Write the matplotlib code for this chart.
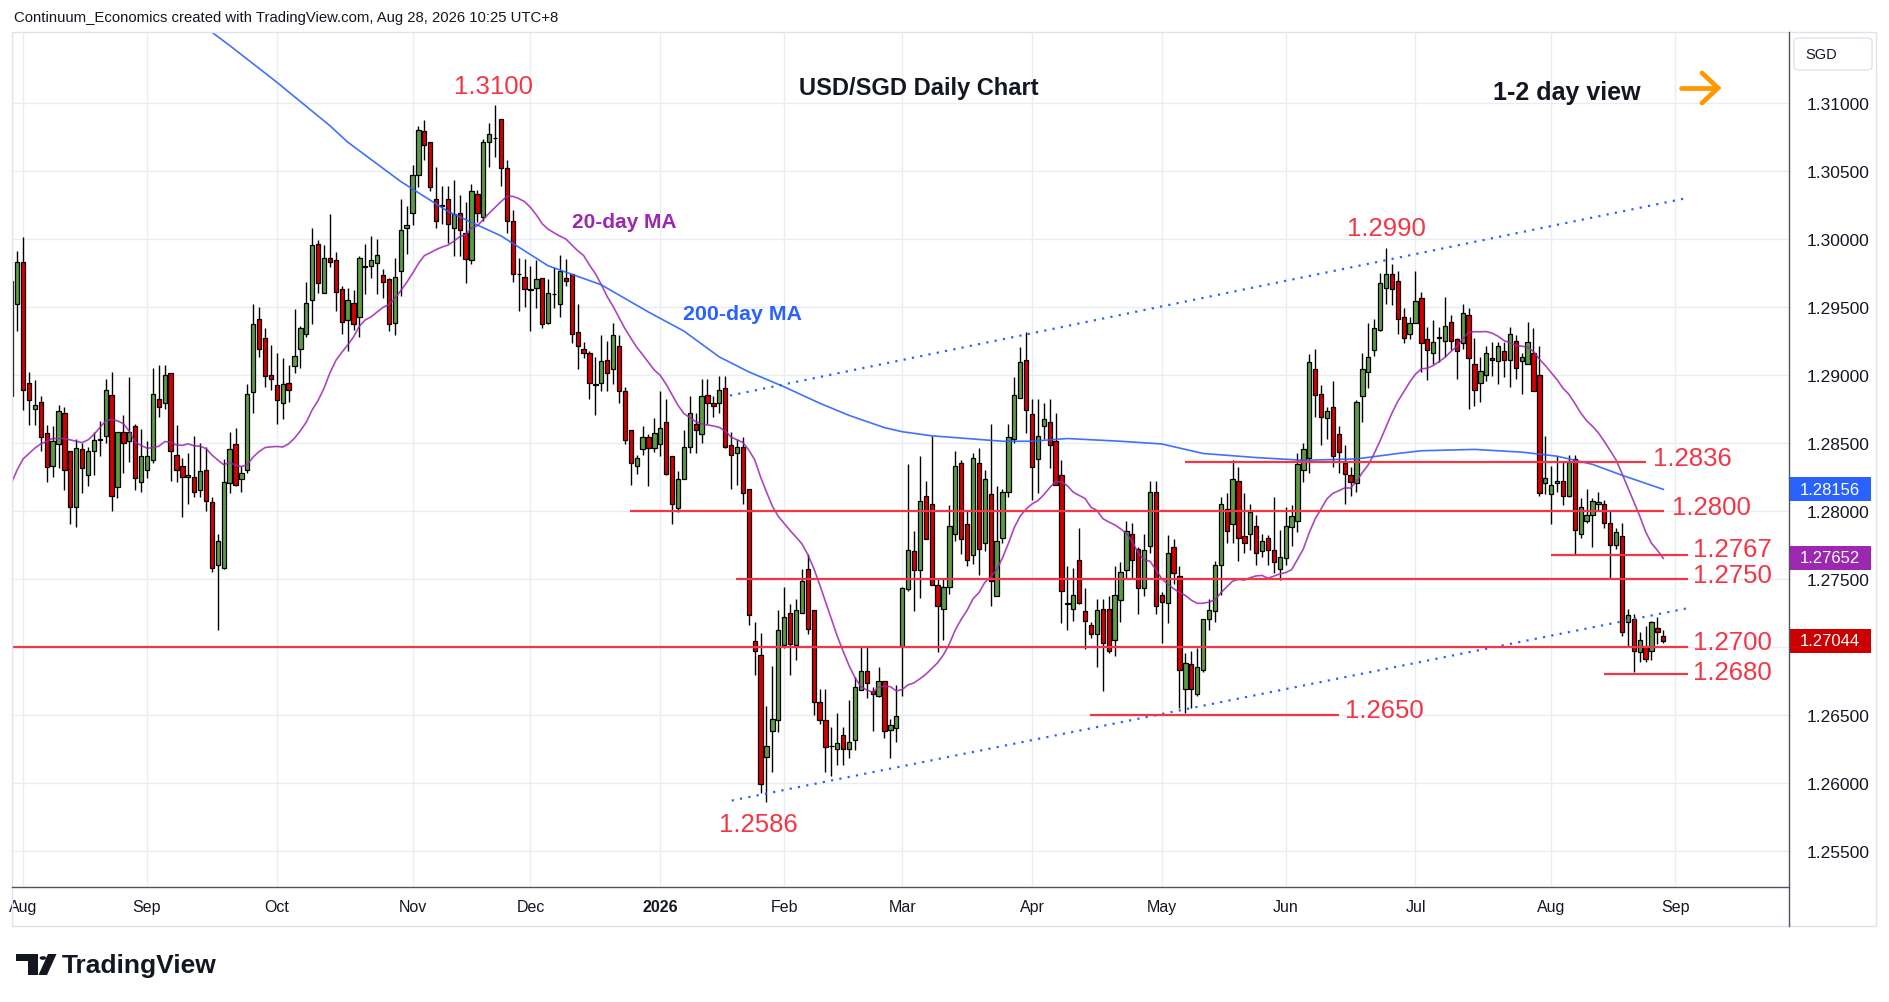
import matplotlib
matplotlib.use("Agg")
import matplotlib.pyplot as plt
from matplotlib.patches import Rectangle, FancyBboxPatch, Polygon, Circle
from matplotlib.lines import Line2D
from matplotlib.transforms import blended_transform_factory
import numpy as np
import pandas as pd

plt.rcParams['font.family'] = ['Liberation Sans', 'DejaVu Sans']

W, H = 1889, 1003

# daily candles, USD/SGD, 30 Jul 2025 .. 28 Aug 2026 (bar index 0..280)
opens = [
    1.2884, 1.2952, 1.2983, 1.2894, 1.2875, 1.2880, 1.2857, 1.2833, 1.2849, 1.2872,
    1.2844, 1.2803, 1.2845, 1.2826, 1.2844, 1.2852, 1.2855, 1.2885, 1.2817, 1.2858,
    1.2851, 1.2862, 1.2821, 1.2830, 1.2837, 1.2882, 1.2879, 1.2901, 1.2841, 1.2833,
    1.2825, 1.2825, 1.2815, 1.2830, 1.2806, 1.2760, 1.2758, 1.2820, 1.2849, 1.2823,
    1.2830, 1.2887, 1.2941, 1.2927, 1.2900, 1.2892, 1.2879, 1.2894, 1.2906, 1.2919,
    1.2930, 1.2955, 1.2996, 1.2960, 1.2986, 1.2984, 1.2963, 1.2940, 1.2953, 1.2942,
    1.2980, 1.2980, 1.2982, 1.2973, 1.2970, 1.2938, 1.2976, 1.3008, 1.3019, 1.3047,
    1.3079, 1.3071, 1.3029, 1.3025, 1.3029, 1.3008, 1.3019, 1.3004, 1.2984, 1.3033,
    1.3016, 1.3071, 1.3074, 1.3088, 1.3052, 1.3013, 1.2974, 1.2972, 1.2963, 1.2964,
    1.2971, 1.2938, 1.2959, 1.2952, 1.2971, 1.2974, 1.2931, 1.2919, 1.2916, 1.2893,
    1.2894, 1.2911, 1.2904, 1.2921, 1.2888, 1.2859, 1.2833, 1.2845, 1.2854, 1.2846,
    1.2849, 1.2865, 1.2840, 1.2802, 1.2823, 1.2847, 1.2864, 1.2856, 1.2885, 1.2879,
    1.2879, 1.2890, 1.2848, 1.2842, 1.2847, 1.2816, 1.2704, 1.2694, 1.2619, 1.2638,
    1.2646, 1.2701, 1.2725, 1.2701, 1.2725, 1.2757, 1.2727, 1.2659, 1.2646, 1.2627,
    1.2625, 1.2635, 1.2625, 1.2631, 1.2668, 1.2682, 1.2667, 1.2664, 1.2675, 1.2639,
    1.2640, 1.2700, 1.2742, 1.2770, 1.2756, 1.2811, 1.2805, 1.2745, 1.2728, 1.2744,
    1.2783, 1.2835, 1.2790, 1.2767, 1.2835, 1.2776, 1.2812, 1.2737, 1.2780, 1.2814,
    1.2853, 1.2883, 1.2911, 1.2871, 1.2838, 1.2862, 1.2865, 1.2851, 1.2826, 1.2732,
    1.2728, 1.2764, 1.2726, 1.2716, 1.2709, 1.2728, 1.2728, 1.2705, 1.2734, 1.2756,
    1.2783, 1.2772, 1.2743, 1.2774, 1.2814, 1.2738, 1.2732, 1.2773, 1.2752, 1.2669,
    1.2687, 1.2665, 1.2683, 1.2720, 1.2726, 1.2760, 1.2801, 1.2790, 1.2822, 1.2781,
    1.2783, 1.2789, 1.2770, 1.2780, 1.2771, 1.2757, 1.2765, 1.2788, 1.2792, 1.2830,
    1.2839, 1.2904, 1.2886, 1.2868, 1.2876, 1.2856, 1.2835, 1.2826, 1.2820, 1.2884,
    1.2902, 1.2918, 1.2933, 1.2964, 1.2974, 1.2969, 1.2942, 1.2930, 1.2938, 1.2956,
    1.2926, 1.2916, 1.2928, 1.2925, 1.2939, 1.2926, 1.2923, 1.2944, 1.2908, 1.2894,
    1.2900, 1.2912, 1.2910, 1.2917, 1.2911, 1.2925, 1.2910, 1.2908, 1.2916, 1.2900,
    1.2820, 1.2812, 1.2820, 1.2822, 1.2811, 1.2838, 1.2783, 1.2792, 1.2797, 1.2805,
    1.2805, 1.2791, 1.2775, 1.2781, 1.2718, 1.2720, 1.2696, 1.2700, 1.2697, 1.2714,
    1.2708,
]
highs = [
    1.2975, 1.2991, 1.3001, 1.2902, 1.2896, 1.2884, 1.2863, 1.2862, 1.2878, 1.2876,
    1.2844, 1.2853, 1.2850, 1.2847, 1.2858, 1.2866, 1.2897, 1.2902, 1.2858, 1.2870,
    1.2898, 1.2864, 1.2860, 1.2851, 1.2905, 1.2907, 1.2907, 1.2901, 1.2863, 1.2839,
    1.2842, 1.2855, 1.2850, 1.2847, 1.2810, 1.2783, 1.2838, 1.2858, 1.2861, 1.2833,
    1.2893, 1.2952, 1.2950, 1.2934, 1.2922, 1.2916, 1.2912, 1.2907, 1.2948, 1.2936,
    1.2968, 1.3008, 1.2999, 1.2995, 1.3018, 1.2990, 1.2965, 1.2964, 1.2962, 1.2987,
    1.2996, 1.3002, 1.3000, 1.2978, 1.2971, 1.2986, 1.3029, 1.3024, 1.3054, 1.3083,
    1.3087, 1.3071, 1.3053, 1.3039, 1.3039, 1.3043, 1.3032, 1.3027, 1.3040, 1.3036,
    1.3073, 1.3085, 1.3098, 1.3088, 1.3058, 1.3021, 1.2986, 1.2985, 1.2980, 1.2984,
    1.2971, 1.2970, 1.2979, 1.2988, 1.2985, 1.2974, 1.2952, 1.2924, 1.2917, 1.2913,
    1.2929, 1.2925, 1.2938, 1.2929, 1.2891, 1.2859, 1.2841, 1.2862, 1.2856, 1.2868,
    1.2888, 1.2882, 1.2840, 1.2829, 1.2859, 1.2884, 1.2872, 1.2897, 1.2897, 1.2884,
    1.2899, 1.2899, 1.2858, 1.2853, 1.2854, 1.2816, 1.2718, 1.2710, 1.2656, 1.2686,
    1.2727, 1.2744, 1.2731, 1.2735, 1.2757, 1.2768, 1.2727, 1.2669, 1.2669, 1.2641,
    1.2651, 1.2641, 1.2661, 1.2678, 1.2700, 1.2700, 1.2670, 1.2685, 1.2675, 1.2647,
    1.2672, 1.2744, 1.2834, 1.2785, 1.2840, 1.2822, 1.2855, 1.2750, 1.2750, 1.2804,
    1.2844, 1.2837, 1.2800, 1.2842, 1.2846, 1.2830, 1.2864, 1.2818, 1.2816, 1.2864,
    1.2898, 1.2920, 1.2931, 1.2882, 1.2882, 1.2879, 1.2882, 1.2872, 1.2837, 1.2759,
    1.2758, 1.2787, 1.2743, 1.2718, 1.2735, 1.2735, 1.2737, 1.2759, 1.2762, 1.2792,
    1.2791, 1.2773, 1.2783, 1.2822, 1.2822, 1.2740, 1.2782, 1.2779, 1.2759, 1.2695,
    1.2697, 1.2699, 1.2720, 1.2735, 1.2763, 1.2810, 1.2813, 1.2837, 1.2832, 1.2813,
    1.2805, 1.2797, 1.2783, 1.2782, 1.2810, 1.2786, 1.2803, 1.2804, 1.2842, 1.2850,
    1.2915, 1.2919, 1.2892, 1.2876, 1.2895, 1.2862, 1.2848, 1.2832, 1.2881, 1.2916,
    1.2938, 1.2941, 1.2975, 1.2993, 1.2981, 1.2976, 1.2949, 1.2942, 1.2976, 1.2961,
    1.2935, 1.2940, 1.2935, 1.2957, 1.2944, 1.2927, 1.2952, 1.2949, 1.2927, 1.2913,
    1.2921, 1.2924, 1.2924, 1.2924, 1.2935, 1.2929, 1.2916, 1.2939, 1.2934, 1.2921,
    1.2855, 1.2833, 1.2840, 1.2836, 1.2841, 1.2841, 1.2809, 1.2816, 1.2809, 1.2814,
    1.2808, 1.2800, 1.2787, 1.2791, 1.2728, 1.2724, 1.2711, 1.2715, 1.2719, 1.2722,
    1.2712,
]
lows = [
    1.2878, 1.2932, 1.2874, 1.2863, 1.2863, 1.2844, 1.2821, 1.2825, 1.2831, 1.2815,
    1.2790, 1.2788, 1.2813, 1.2818, 1.2826, 1.2840, 1.2850, 1.2800, 1.2809, 1.2828,
    1.2836, 1.2815, 1.2814, 1.2824, 1.2835, 1.2869, 1.2875, 1.2822, 1.2821, 1.2795,
    1.2805, 1.2810, 1.2810, 1.2800, 1.2755, 1.2712, 1.2757, 1.2813, 1.2818, 1.2814,
    1.2828, 1.2872, 1.2913, 1.2891, 1.2889, 1.2864, 1.2867, 1.2880, 1.2901, 1.2905,
    1.2928, 1.2937, 1.2960, 1.2960, 1.2979, 1.2947, 1.2930, 1.2917, 1.2933, 1.2928,
    1.2959, 1.2971, 1.2959, 1.2956, 1.2932, 1.2929, 1.2958, 1.2989, 1.3010, 1.3038,
    1.3058, 1.3035, 1.3008, 1.3011, 1.2997, 1.2987, 1.2987, 1.2967, 1.2981, 1.3012,
    1.3013, 1.3053, 1.3060, 1.3039, 1.3004, 1.2968, 1.2947, 1.2950, 1.2932, 1.2949,
    1.2934, 1.2937, 1.2949, 1.2942, 1.2965, 1.2923, 1.2904, 1.2912, 1.2882, 1.2870,
    1.2888, 1.2888, 1.2893, 1.2879, 1.2849, 1.2819, 1.2827, 1.2841, 1.2818, 1.2843,
    1.2840, 1.2826, 1.2790, 1.2799, 1.2823, 1.2842, 1.2842, 1.2850, 1.2864, 1.2869,
    1.2872, 1.2846, 1.2816, 1.2819, 1.2805, 1.2716, 1.2679, 1.2592, 1.2586, 1.2608,
    1.2637, 1.2699, 1.2679, 1.2690, 1.2725, 1.2709, 1.2650, 1.2643, 1.2608, 1.2605,
    1.2613, 1.2613, 1.2618, 1.2624, 1.2668, 1.2662, 1.2638, 1.2663, 1.2633, 1.2618,
    1.2630, 1.2664, 1.2741, 1.2726, 1.2736, 1.2779, 1.2745, 1.2696, 1.2705, 1.2739,
    1.2778, 1.2768, 1.2759, 1.2761, 1.2753, 1.2770, 1.2730, 1.2737, 1.2776, 1.2810,
    1.2850, 1.2883, 1.2857, 1.2808, 1.2813, 1.2853, 1.2831, 1.2819, 1.2717, 1.2712,
    1.2719, 1.2731, 1.2698, 1.2706, 1.2685, 1.2667, 1.2695, 1.2693, 1.2718, 1.2750,
    1.2750, 1.2724, 1.2737, 1.2769, 1.2724, 1.2703, 1.2717, 1.2746, 1.2655, 1.2651,
    1.2655, 1.2664, 1.2681, 1.2712, 1.2718, 1.2738, 1.2776, 1.2776, 1.2763, 1.2769,
    1.2771, 1.2760, 1.2766, 1.2760, 1.2754, 1.2749, 1.2760, 1.2774, 1.2784, 1.2821,
    1.2828, 1.2869, 1.2848, 1.2853, 1.2832, 1.2828, 1.2805, 1.2811, 1.2814, 1.2865,
    1.2890, 1.2914, 1.2932, 1.2952, 1.2951, 1.2930, 1.2923, 1.2926, 1.2938, 1.2902,
    1.2896, 1.2908, 1.2909, 1.2913, 1.2918, 1.2897, 1.2919, 1.2875, 1.2877, 1.2880,
    1.2895, 1.2899, 1.2893, 1.2898, 1.2891, 1.2897, 1.2886, 1.2908, 1.2888, 1.2811,
    1.2812, 1.2790, 1.2814, 1.2804, 1.2810, 1.2767, 1.2780, 1.2791, 1.2773, 1.2800,
    1.2787, 1.2750, 1.2772, 1.2708, 1.2700, 1.2681, 1.2689, 1.2689, 1.2690, 1.2702,
    1.2703,
]
closes = [
    1.2969, 1.2983, 1.2889, 1.2881, 1.2878, 1.2854, 1.2832, 1.2851, 1.2873, 1.2830,
    1.2803, 1.2846, 1.2831, 1.2844, 1.2852, 1.2853, 1.2889, 1.2811, 1.2858, 1.2850,
    1.2858, 1.2824, 1.2840, 1.2840, 1.2886, 1.2876, 1.2900, 1.2844, 1.2830, 1.2825,
    1.2826, 1.2814, 1.2829, 1.2807, 1.2758, 1.2778, 1.2821, 1.2845, 1.2819, 1.2828,
    1.2886, 1.2937, 1.2919, 1.2899, 1.2897, 1.2881, 1.2893, 1.2889, 1.2914, 1.2934,
    1.2953, 1.2995, 1.2967, 1.2986, 1.2983, 1.2961, 1.2939, 1.2955, 1.2937, 1.2986,
    1.2979, 1.2984, 1.2988, 1.2968, 1.2937, 1.2972, 1.3006, 1.3010, 1.3047, 1.3080,
    1.3069, 1.3038, 1.3013, 1.3024, 1.3011, 1.3018, 1.3006, 1.2985, 1.3035, 1.3019,
    1.3071, 1.3077, 1.3074, 1.3052, 1.3013, 1.2974, 1.2974, 1.2963, 1.2962, 1.2970,
    1.2937, 1.2960, 1.2959, 1.2976, 1.2969, 1.2930, 1.2921, 1.2916, 1.2894, 1.2892,
    1.2910, 1.2901, 1.2929, 1.2888, 1.2852, 1.2835, 1.2839, 1.2854, 1.2846, 1.2857,
    1.2861, 1.2827, 1.2805, 1.2823, 1.2847, 1.2872, 1.2859, 1.2884, 1.2879, 1.2877,
    1.2889, 1.2847, 1.2841, 1.2847, 1.2813, 1.2723, 1.2697, 1.2599, 1.2627, 1.2647,
    1.2712, 1.2722, 1.2702, 1.2727, 1.2748, 1.2713, 1.2659, 1.2646, 1.2626, 1.2627,
    1.2629, 1.2625, 1.2630, 1.2670, 1.2682, 1.2673, 1.2665, 1.2675, 1.2638, 1.2642,
    1.2649, 1.2743, 1.2771, 1.2756, 1.2807, 1.2779, 1.2745, 1.2730, 1.2744, 1.2789,
    1.2833, 1.2779, 1.2764, 1.2839, 1.2772, 1.2823, 1.2748, 1.2778, 1.2814, 1.2854,
    1.2885, 1.2909, 1.2874, 1.2832, 1.2855, 1.2867, 1.2848, 1.2819, 1.2741, 1.2731,
    1.2738, 1.2732, 1.2719, 1.2709, 1.2727, 1.2703, 1.2697, 1.2738, 1.2755, 1.2785,
    1.2764, 1.2743, 1.2771, 1.2814, 1.2730, 1.2733, 1.2769, 1.2754, 1.2683, 1.2688,
    1.2669, 1.2685, 1.2720, 1.2727, 1.2760, 1.2805, 1.2785, 1.2823, 1.2780, 1.2776,
    1.2799, 1.2769, 1.2778, 1.2771, 1.2762, 1.2766, 1.2789, 1.2796, 1.2834, 1.2845,
    1.2909, 1.2885, 1.2869, 1.2873, 1.2840, 1.2843, 1.2827, 1.2821, 1.2880, 1.2904,
    1.2913, 1.2934, 1.2967, 1.2974, 1.2963, 1.2941, 1.2927, 1.2938, 1.2954, 1.2923,
    1.2918, 1.2924, 1.2927, 1.2936, 1.2925, 1.2917, 1.2945, 1.2912, 1.2889, 1.2903,
    1.2916, 1.2911, 1.2921, 1.2911, 1.2930, 1.2905, 1.2913, 1.2924, 1.2888, 1.2813,
    1.2824, 1.2819, 1.2822, 1.2811, 1.2836, 1.2786, 1.2803, 1.2797, 1.2807, 1.2806,
    1.2791, 1.2775, 1.2784, 1.2711, 1.2723, 1.2697, 1.2705, 1.2691, 1.2718, 1.2711,
    1.2704,
]

# 20-day MA for the first bars (its window starts before the visible range)
ma20_head = [1.2820, 1.2830, 1.2838, 1.2842, 1.2846, 1.2849, 1.2851, 1.2853, 1.2853, 1.2853,
             1.2852, 1.2851, 1.2850, 1.2852, 1.2856, 1.2861, 1.2866, 1.2867, 1.2866]

# 200-day MA (bar index, value)
ma200_idx = [33, 37, 45, 54, 57, 66, 74, 83, 91, 100, 108, 114, 120, 125, 131, 137, 142, 148,
             151, 156, 162, 168, 173, 179, 188, 195, 202, 211, 219, 228, 235, 239, 248, 256,
             262, 268, 273, 280]
ma200_val = [1.3155, 1.3142, 1.3115, 1.3083, 1.3071, 1.3042, 1.3020, 1.3002, 1.2980, 1.2966,
             1.2946, 1.2932, 1.2913, 1.2902, 1.2891, 1.2879, 1.2870, 1.2861, 1.2858, 1.2855,
             1.2853, 1.2851, 1.2851, 1.2853, 1.2851, 1.2849, 1.2842, 1.2839, 1.2837, 1.2838,
             1.2842, 1.2844, 1.2845, 1.2843, 1.2840, 1.2834, 1.2826, 1.28156]

# last values printed on the price scale
last_ma200 = 1.28156
last_ma20 = 1.27652
last_close = 1.27044

month_idx = [2, 23, 45, 68, 88, 110, 131, 151, 173, 195, 216, 238, 261, 282]
month_labels = ['Aug', 'Sep', 'Oct', 'Nov', 'Dec', '2026', 'Feb', 'Mar', 'Apr', 'May',
                'Jun', 'Jul', 'Aug', 'Sep']

levels = [1.2836, 1.2800, 1.2767, 1.2750, 1.2700, 1.2680, 1.2650]
peaks = [1.3100, 1.2990, 1.2586]

# channel trendlines (bar index, price)
upper_chan = [(121.8, 1.28846), (284.1, 1.30299)]
lower_chan = [(122.1, 1.25868), (284.1, 1.27282)]

GREEN = '#5e9c44'
RED = '#d50000'
LVL = '#f23645'
BLUE = '#2962ff'
PURPLE = '#9c27b0'
TXT = '#131722'


def fx(px):
    return px / W


def fy(py):
    return 1 - py / H


fig = plt.figure(figsize=(W / 100, H / 100), dpi=100)
fig.patch.set_facecolor('white')

ax = fig.add_axes([fx(12), fy(888), fx(1789) - fx(12), fy(34) - fy(888)])
xlim = ((12 - 11.3) / 5.9, (1789 - 11.3) / 5.9)
ylim = (1.31 - (888 - 103.6) / 13600, 1.31 + (103.6 - 34) / 13600)
ax.set_xlim(*xlim)
ax.set_ylim(*ylim)

n = len(closes)
x = np.arange(n)
o = np.array(opens)
c = np.array(closes)
hi = np.array(highs)
lo = np.array(lows)

yt = np.arange(1.255, 1.3101, 0.005)
ax.set_yticks(yt)
ax.set_xticks(month_idx)
ax.grid(True, color='#e9edf2', lw=1.0)
ax.set_axisbelow(True)
for s in ax.spines.values():
    s.set_visible(False)

# date labels
ax.set_xticklabels(month_labels)
ax.tick_params(axis='x', length=0, pad=9, labelsize=11.5, labelcolor=TXT)
ax.get_xticklabels()[5].set_fontweight('bold')

# price labels on the right (1.27000 sits under the last-price tag)
ax.yaxis.tick_right()
ax.set_yticklabels(['' if abs(v - last_close) < 0.0015 else f'{v:.5f}' for v in yt])
ax.tick_params(axis='y', length=0, pad=13, labelsize=12.5, labelcolor=TXT)

# candles
ax.vlines(x, lo, hi, color='black', lw=1.0, zorder=3)
body_lo = np.minimum(o, c)
body_h = np.maximum(np.abs(c - o), 0.00002)
cols = [GREEN if cc >= oo else RED for oo, cc in zip(o, c)]
ax.bar(x, body_h, bottom=body_lo, width=0.72, color=cols, edgecolor='black',
       linewidth=0.9, zorder=4)

# moving averages
ma20 = pd.Series(c).rolling(20).mean().to_numpy()
ma20[:19] = ma20_head
ax.plot(x, ma20, color=PURPLE, lw=1.2, alpha=0.85, zorder=5)
ax.plot(ma200_idx, ma200_val, color=BLUE, lw=1.2, alpha=0.9, zorder=5)

# channel
for chan in (upper_chan, lower_chan):
    ax.plot([p[0] for p in chan], [p[1] for p in chan], color=BLUE, lw=1.6,
            linestyle=(0, (1, 2.8)), zorder=5)

# support / resistance lines
spans = {1.2836: (199, 277), 1.2800: (104.9, 280.1), 1.2767: (261, 284.2),
         1.2750: (122.8, 284.2), 1.2700: (xlim[0], 284.2), 1.2680: (270, 284.2),
         1.2650: (182.8, 225)}
lab_pos = {1.2836: (278.3, 1.28387), 1.2800: (281.5, 1.28024), 1.2767: (285.0, 1.27718),
           1.2750: (285.0, 1.27530), 1.2700: (285.0, 1.27035), 1.2680: (285.0, 1.26810),
           1.2650: (226.1, 1.26534)}
for lv in levels:
    x0, x1 = spans[lv]
    ax.hlines(lv, x0, x1, color=LVL, lw=1.6, zorder=6)
    lx, ly = lab_pos[lv]
    ax.text(lx, ly, f'{lv:.4f}', color=LVL, fontsize=18.5, ha='left', va='center', zorder=7)

peak_pos = {1.3100: (81.7, 1.31122), 1.2990: (233.0, 1.30079), 1.2586: (126.7, 1.25693)}
for pk in peaks:
    px, py = peak_pos[pk]
    ax.text(px, py, f'{pk:.4f}', color=LVL, fontsize=18.5, ha='center', va='center', zorder=7)

ax.text(95.0, 1.30125, '20-day MA', color=PURPLE, fontsize=15, fontweight='bold',
        ha='left', va='center', zorder=7)
ax.text(113.8, 1.29446, '200-day MA', color=BLUE, fontsize=15.4, fontweight='bold',
        ha='left', va='center', zorder=7)

# price tags on the axis
tr = blended_transform_factory(ax.transAxes, ax.transData)
axw = 1789 - 12
tags = [(last_ma200, BLUE), (last_ma20, PURPLE), (last_close, '#cc0000')]
for val, col in tags:
    half = 12 / 13600
    ax.add_patch(Rectangle((1.0, val - half), 82 / axw, 2 * half, transform=tr,
                           facecolor=col, edgecolor='none', clip_on=False, zorder=8))
    ax.text(1.0 + 41 / axw, val, f'{val:.5f}', transform=tr, color='white', fontsize=12,
            ha='center', va='center', clip_on=False, zorder=9)

# frame and axis lines
fig.add_artist(Rectangle((fx(12), fy(927)), fx(1876) - fx(12), fy(33) - fy(927),
                         transform=fig.transFigure, facecolor='none', edgecolor='#e0e3eb', lw=1))
fig.add_artist(Line2D([fx(12), fx(1789)], [fy(888), fy(888)], transform=fig.transFigure,
                      color='#50535e', lw=1))
fig.add_artist(Line2D([fx(1789), fx(1789)], [fy(33), fy(927)], transform=fig.transFigure,
                      color='#50535e', lw=1))

# currency box
fig.add_artist(FancyBboxPatch((fx(1794), fy(71)), fx(1872) - fx(1794), fy(39) - fy(71),
                              boxstyle='round,pad=0,rounding_size=0.003',
                              transform=fig.transFigure, facecolor='white',
                              edgecolor='#e0e3eb', lw=1))
fig.text(fx(1805), fy(55), 'SGD', fontsize=10.5, color=TXT, ha='left', va='center')

# header and titles
fig.text(fx(14), fy(18), 'Continuum_Economics created with TradingView.com, Aug 28, 2026 10:25 UTC+8',
         fontsize=10.7, color=TXT, ha='left', va='center')
fig.text(fx(799), fy(88), 'USD/SGD Daily Chart', fontsize=17, fontweight='bold',
         color=TXT, ha='left', va='center')
fig.text(fx(1493), fy(93), '1-2 day view', fontsize=18, fontweight='bold',
         color=TXT, ha='left', va='center')

# orange arrow
ORANGE = '#ff9800'
fig.add_artist(Line2D([fx(1681), fx(1716)], [fy(89), fy(89)], transform=fig.transFigure,
                      color=ORANGE, lw=3.4, solid_capstyle='round'))
fig.add_artist(Line2D([fx(1702), fx(1718), fx(1702)], [fy(74), fy(89), fy(104)],
                      transform=fig.transFigure, color=ORANGE, lw=3.4,
                      solid_capstyle='round', solid_joinstyle='miter'))

# TradingView logo
LOGO = '#131722'
fig.add_artist(Polygon([(fx(15.6), fy(955)), (fx(38), fy(955)), (fx(38), fy(976)),
                        (fx(28), fy(976)), (fx(28), fy(962)), (fx(15.6), fy(962))],
                       closed=True, transform=fig.transFigure, facecolor=LOGO, edgecolor='none'))
fig.add_artist(Circle((fx(43), fy(959)), 3.4 / W, transform=fig.transFigure,
                      facecolor=LOGO, edgecolor='none'))
fig.add_artist(Polygon([(fx(48), fy(955)), (fx(56.5), fy(955)), (fx(47), fy(976)),
                        (fx(38.5), fy(976))],
                       closed=True, transform=fig.transFigure, facecolor=LOGO, edgecolor='none'))
fig.text(fx(62), fy(966), 'TradingView', fontsize=19, fontweight='bold', color=LOGO,
         ha='left', va='center')

fig.savefig('out.png', dpi=100)
